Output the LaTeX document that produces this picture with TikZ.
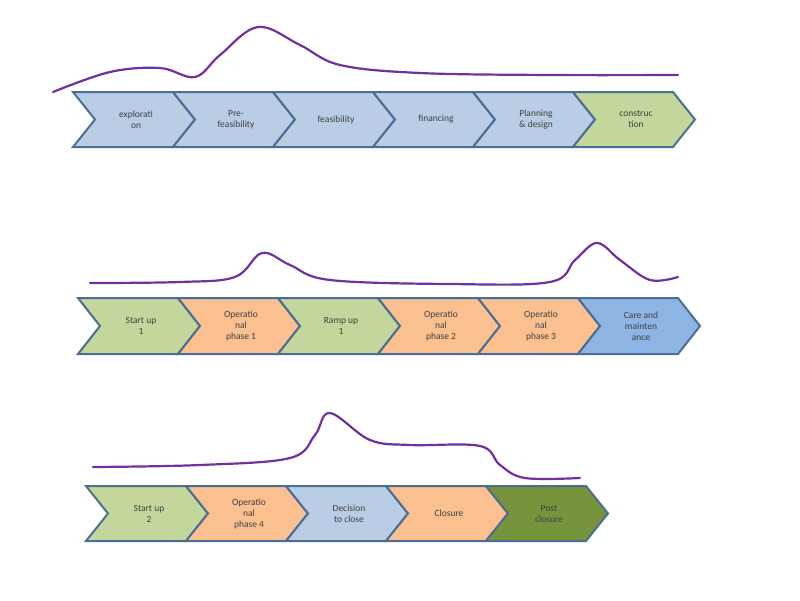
\documentclass[tikz,border=0pt]{standalone}
\usepackage{fontspec}
\setmainfont{Carlito}
\begin{document}
\begin{tikzpicture}[x=1pt,y=-1pt,
  chev/.style={draw=chevb,line width=2pt,line join=miter},
  lab/.style={font=\fontsize{9.5}{11}\selectfont,text=black!75,align=center},
  curve/.style={draw=curv,line width=2.2pt,line cap=round}]
\definecolor{chevb}{HTML}{4A6E94}
\definecolor{lb}{HTML}{B9CDE5}
\definecolor{gr}{HTML}{C3D69B}
\definecolor{or}{HTML}{FAC090}
\definecolor{mb}{HTML}{8EB4E3}
\definecolor{dg}{HTML}{77933C}
\definecolor{curv}{HTML}{7030A0}
\useasboundingbox (0,0) rectangle (800,600);
% chevron macro: #1 x, #2 top, #3 bottom, #4 fill, #5 name, #6 text
\newcommand{\mychev}[6]{%
  \pgfmathsetmacro{\ym}{(#2+#3)/2}%
  \fill[#4] (#1,#2) -- ++(100,0) -- (#1+122,\ym) -- (#1+100,#3) -- (#1,#3) -- (#1+22,\ym) -- cycle;
  \draw[chev] (#1,#2) -- ++(100,0) -- (#1+122,\ym) -- (#1+100,#3) -- (#1,#3) -- (#1+22,\ym) -- cycle;
  \node[lab] (#5) at (#1+63,\ym) {#6};}
\mychev{73}{92}{147}{lb}{a1}{explorati\\on}
\mychev{173}{92}{147}{lb}{a2}{Pre-\\feasibility}
\mychev{273}{92}{147}{lb}{a3}{feasibility}
\mychev{373}{92}{147}{lb}{a4}{financing}
\mychev{473}{92}{147}{lb}{a5}{Planning\\\& design}
\mychev{573}{92}{147}{gr}{a6}{construc\\tion}
\mychev{78}{298}{354}{gr}{b1}{Start up\\1}
\mychev{178}{298}{354}{or}{b2}{Operatio\\nal\\phase 1}
\mychev{278}{298}{354}{gr}{b3}{Ramp up\\1}
\mychev{378}{298}{354}{or}{b4}{Operatio\\nal\\phase 2}
\mychev{478}{298}{354}{or}{b5}{Operatio\\nal\\phase 3}
\mychev{578}{298}{354}{mb}{b6}{Care and\\mainten\\ance}
\mychev{86}{486}{541}{gr}{c1}{Start up\\2}
\mychev{186}{486}{541}{or}{c2}{Operatio\\nal\\phase 4}
\mychev{286}{486}{541}{lb}{c3}{Decision\\to close}
\mychev{386}{486}{541}{or}{c4}{Closure}
\mychev{486}{486}{541}{dg}{c5}{Post\\closure}
\draw[curve] plot[smooth,tension=0.6] coordinates {(53,92) (110,72) (160,68) (195,77) (220,55) (258,27) (300,45) (340,65) (420,73) (550,75) (678,75)};
\draw[curve] plot[smooth,tension=0.6] coordinates {(90,283) (180,282) (235,277) (262,253) (290,265) (330,280) (450,284) (550,282) (575,260) (597,243) (620,260) (650,280) (678,277)};
\draw[curve] plot[smooth,tension=0.6] coordinates {(93,467) (200,465) (290,458) (315,435) (330,413) (370,440) (410,445) (480,446) (500,465) (525,478) (580,478)};
\end{tikzpicture}
\end{document}
